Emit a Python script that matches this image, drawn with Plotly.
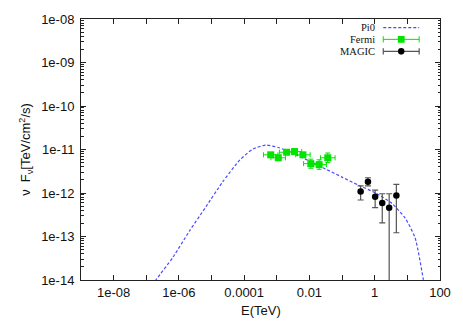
import plotly.graph_objects as go

# Pi0 model curve (E in TeV, nu F_nu in TeV/cm^2/s)
pi0_e = [1.0e-7, 2.03e-7, 6.52e-7, 2.10e-6, 6.79e-6, 2.18e-5, 7.05e-5, 1.79e-4, 4.59e-4,
         1.17e-3, 2.97e-3, 9.6e-3, 0.031, 0.0993, 0.321, 1.035, 3.32, 8.51, 17.2, 30.8, 32.5]
pi0_f = [5.0e-15, 1.03e-14, 3.32e-14, 1.33e-13, 4.88e-13, 1.79e-12, 5.53e-12, 1.01e-11, 1.26e-11,
         1.10e-11, 8.20e-12, 5.53e-12, 3.57e-12, 2.32e-12, 1.51e-12, 1.01e-12, 5.79e-13, 2.65e-13,
         9.4e-14, 1.03e-14, 8.0e-15]

# Fermi points
fermi_e = [6.5e-4, 1.11e-3, 2.0e-3, 3.5e-3, 6.3e-3, 0.011, 0.0198, 0.0364]
fermi_e_lo = [3.9e-4, 6.6e-4, 1.2e-3, 2.1e-3, 3.8e-3, 6.6e-3, 0.0119, 0.0218]
fermi_e_hi = [1.08e-3, 1.85e-3, 3.3e-3, 5.8e-3, 0.0105, 0.0183, 0.033, 0.061]
fermi_f = [7.55e-12, 6.45e-12, 8.65e-12, 8.97e-12, 7.55e-12, 4.73e-12, 4.49e-12, 6.45e-12]
fermi_f_lo = [6.8e-12, 5.8e-12, 7.8e-12, 8.1e-12, 6.8e-12, 3.7e-12, 3.5e-12, 5.0e-12]
fermi_f_hi = [8.4e-12, 7.1e-12, 9.6e-12, 9.9e-12, 8.4e-12, 6.0e-12, 5.8e-12, 8.3e-12]

# MAGIC points
magic_e = [0.37, 0.62, 1.03, 1.7, 2.77, 4.6]
magic_f = [1.08e-12, 1.82e-12, 8.2e-13, 5.9e-13, 4.57e-13, 8.8e-13]
magic_f_lo = [6.9e-13, 1.46e-12, 4.6e-13, 2.05e-13, 1e-17, 1.22e-13]
magic_f_hi = [1.46e-12, 2.24e-12, 1.16e-12, 9.6e-13, 9.6e-13, 1.58e-12]

x_tickvals = [1e-8, 1e-6, 1e-4, 1e-2, 1, 100]
x_ticktext = ["1e-08", "1e-06", "0.0001", "0.01", "1", "100"]
x_minorvals = [1e-7, 1e-5, 1e-3, 1e-1, 10]
y_tickvals = [1e-14, 1e-13, 1e-12, 1e-11, 1e-10, 1e-9, 1e-8]
y_ticktext = ["1e-14", "1e-13", "1e-12", "1e-11", "1e-10", "1e-09", "1e-08"]

PI0_COLOR = "#4a4aff"
FERMI_COLOR = "#00e400"
MAGIC_BAR = "#555555"
AXIS_COLOR = "#222222"

fig = go.Figure()
fig.add_trace(go.Scatter(
    x=pi0_e, y=pi0_f, mode="lines", name="Pi0",
    line=dict(color=PI0_COLOR, width=1.2, dash="3px,2px", shape="spline", smoothing=0.6),
))
fig.add_trace(go.Scatter(
    x=fermi_e, y=fermi_f, mode="markers", name="Fermi",
    marker=dict(symbol="square", size=7, color=FERMI_COLOR),
    error_x=dict(type="data", symmetric=False,
                 array=[h - e for h, e in zip(fermi_e_hi, fermi_e)],
                 arrayminus=[e - l for e, l in zip(fermi_e, fermi_e_lo)],
                 color=FERMI_COLOR, thickness=1, width=2.5),
    error_y=dict(type="data", symmetric=False,
                 array=[h - f for h, f in zip(fermi_f_hi, fermi_f)],
                 arrayminus=[f - l for f, l in zip(fermi_f, fermi_f_lo)],
                 color=FERMI_COLOR, thickness=1, width=2.5),
))
fig.add_trace(go.Scatter(
    x=magic_e, y=magic_f, mode="markers", name="MAGIC",
    marker=dict(symbol="circle", size=6.5, color="black"),
    error_y=dict(type="data", symmetric=False,
                 array=[h - f for h, f in zip(magic_f_hi, magic_f)],
                 arrayminus=[f - l for f, l in zip(magic_f, magic_f_lo)],
                 color=MAGIC_BAR, thickness=1.2, width=3),
))

minor_y = [k * 10.0 ** d for d in range(-14, -8) for k in range(2, 10)]

fig.update_xaxes(
    type="log", range=[-9, 2], tickvals=x_tickvals, ticktext=x_ticktext,
    ticks="inside", ticklen=5, tickcolor=AXIS_COLOR, showgrid=False, zeroline=False,
    showline=True, linecolor=AXIS_COLOR, linewidth=1, mirror="ticks",
    minor=dict(tickvals=x_minorvals, ticks="inside", ticklen=5, tickcolor=AXIS_COLOR, showgrid=False),
    tickfont=dict(family="Liberation Sans, Arial", size=13, color="#111"),
)
fig.update_yaxes(
    type="log", range=[-14, -8], tickvals=y_tickvals, ticktext=y_ticktext,
    ticks="inside", ticklen=5, tickcolor=AXIS_COLOR, showgrid=False, zeroline=False,
    showline=True, linecolor=AXIS_COLOR, linewidth=1, mirror="ticks",
    minor=dict(tickvals=minor_y, ticks="inside", ticklen=2.5, tickcolor=AXIS_COLOR, showgrid=False),
    tickfont=dict(family="Liberation Sans, Arial", size=13, color="#111"),
    ticklabelstandoff=3,
)

# gnuplot-style key: text right aligned, sample on the right
lx0, lx1, ltx = 0.842, 0.942, 0.825
rows = [0.967, 0.922, 0.876]
cap = 0.012
shapes = [
    dict(type="line", xref="paper", yref="paper", x0=lx0, x1=lx1, y0=rows[0], y1=rows[0],
         line=dict(color=PI0_COLOR, width=1.2, dash="3px,2px")),
]
for row, col, w in [(rows[1], FERMI_COLOR, 1), (rows[2], MAGIC_BAR, 1.2)]:
    shapes.append(dict(type="line", xref="paper", yref="paper", x0=lx0, x1=lx1, y0=row, y1=row,
                       line=dict(color=col, width=w)))
    for xx in (lx0, lx1):
        shapes.append(dict(type="line", xref="paper", yref="paper", x0=xx, x1=xx,
                           y0=row - cap, y1=row + cap, line=dict(color=col, width=w)))
xm = (lx0 + lx1) / 2
shapes.append(dict(type="rect", xref="paper", yref="paper", x0=xm - 0.0095, x1=xm + 0.0095,
                   y0=rows[1] - 0.013, y1=rows[1] + 0.013, fillcolor=FERMI_COLOR, line=dict(width=0)))
shapes.append(dict(type="circle", xref="paper", yref="paper", x0=xm - 0.009, x1=xm + 0.009,
                   y0=rows[2] - 0.0125, y1=rows[2] + 0.0125, fillcolor="black", line=dict(width=0)))

annotations = [
    dict(text=t, xref="paper", yref="paper", x=ltx, y=r, xanchor="right", yanchor="middle",
         showarrow=False, font=dict(family="Liberation Serif, Times New Roman", size=10.5, color="#111"))
    for t, r in zip(["Pi0", "Fermi", "MAGIC"], rows)
]
annotations.append(dict(
    text="\u03bd  F<sub>\u03bd</sub>[TeV/cm<sup>2</sup>/s)", xref="paper", yref="paper",
    x=-0.155, y=0.5, xanchor="center", yanchor="middle", textangle=-90, showarrow=False,
    font=dict(family="Liberation Sans, Arial", size=13, color="#111"),
))
annotations.append(dict(
    text="E(TeV)", xref="paper", yref="paper", x=0.5, y=-0.117, xanchor="center", yanchor="middle",
    showarrow=False, font=dict(family="Liberation Sans, Arial", size=13, color="#111"),
))

fig.update_layout(
    width=463, height=324,
    margin=dict(l=81, r=21, t=14, b=44),
    paper_bgcolor="white", plot_bgcolor="white",
    showlegend=False,
    shapes=shapes, annotations=annotations,
)
fig.write_html("out.html", config={"displayModeBar": False},
               post_script="document.body.style.margin='0';")
